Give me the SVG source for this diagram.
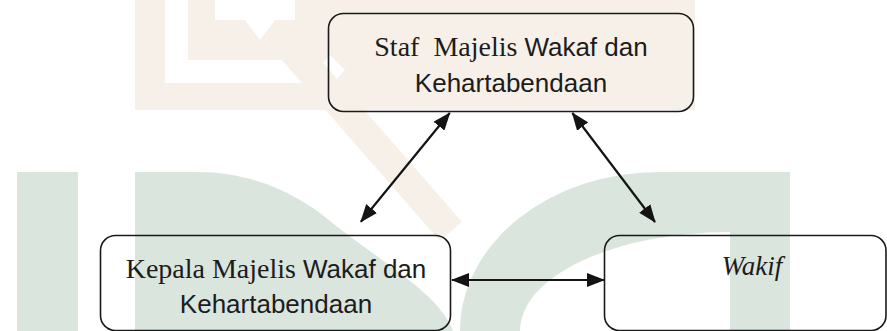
<svg xmlns="http://www.w3.org/2000/svg" width="887" height="331" viewBox="0 0 887 331">
  <style>
    .wm-g { fill: #dae5de; }
    .wm-b { fill: #f6f0e8; }
    .wm-w { fill: #ffffff; }
    .box { fill: none; stroke: #1a1a1a; stroke-width: 1.6; }
    .serif { font-family: "Liberation Serif", "Times New Roman", serif; font-size: 28px; }
    .sans { font-family: "Liberation Sans", Arial, sans-serif; font-size: 26px; }
    .ital { font-family: "Liberation Serif", "Times New Roman", serif; font-size: 27px; font-style: italic; }
    .lbl { fill: #1c1c1c; text-anchor: middle; }
    .conn { stroke: #141414; stroke-width: 2.2; fill: none; marker-start: url(#ah); marker-end: url(#ah); }
  </style>
  <defs>
    <marker id="ah" viewBox="0 0 18 14" refX="17" refY="7" markerWidth="18" markerHeight="14" markerUnits="userSpaceOnUse" orient="auto-start-reverse">
      <path d="M0,0 L18,7 L0,14 z" fill="#141414"/>
    </marker>
  </defs>
  <rect width="887" height="331" fill="#ffffff"/>

  <g id="watermark">
    <rect class="wm-b" x="135" y="0" width="560" height="110"/>
    <rect class="wm-w" x="165" y="0" width="23" height="83"/>
    <rect class="wm-w" x="165" y="60" width="140" height="23"/>
    <rect class="wm-w" x="215" y="0" width="80" height="20"/>
    <polygon class="wm-w" points="245,20 275,20 260,40"/>
    <polygon class="wm-w" points="305,83 330,55 345,70 322,95"/>
    <polygon class="wm-b" points="275,52 297,33 462,222 440,241"/>
    <rect class="wm-w" x="695" y="0" width="192" height="110"/>
    <rect class="wm-g" x="17" y="172" width="61" height="159"/>
    <path class="wm-g" d="M135,172 H197 C255,172 300,195 335,225 C390,268 440,295 453,331 H135 Z"/>
    <path class="wm-g" d="M460,331 A200,159 0 0 1 660,172 L790,172 L790,331 L730,331 L730,232 A210,99 0 0 0 520,331 Z"/>
  </g>

  <g id="connectors">
    <line class="conn" x1="449.7" y1="113" x2="360.9" y2="221.7"/>
    <line class="conn" x1="572.4" y1="113" x2="655" y2="222"/>
    <line class="conn" x1="452" y1="280" x2="604" y2="280"/>
  </g>

  <g id="node-staf">
    <rect class="box" x="328.5" y="13.5" width="365" height="98" rx="15" ry="15"/>
    <text class="lbl" x="511" y="56" xml:space="preserve"><tspan font-family="Liberation Serif, serif" font-size="28" style="font-family:'Liberation Serif',serif;font-size:28px">Staf  Majelis </tspan><tspan style="font-family:'Liberation Sans',sans-serif;font-size:26px">Wakaf dan</tspan></text>
    <text class="lbl sans" x="511" y="92">Kehartabendaan</text>
  </g>

  <g id="node-kepala">
    <rect class="box" x="100.5" y="235.5" width="350" height="95" rx="15" ry="15"/>
    <text class="lbl" x="276" y="278" xml:space="preserve"><tspan style="font-family:'Liberation Serif',serif;font-size:28px">Kepala Majelis </tspan><tspan style="font-family:'Liberation Sans',sans-serif;font-size:26px">Wakaf dan</tspan></text>
    <text class="lbl sans" x="276" y="313">Kehartabendaan</text>
  </g>

  <g id="node-wakif">
    <rect class="box" x="604.5" y="235.5" width="281.5" height="95" rx="15" ry="15"/>
    <text class="lbl ital" x="752" y="275">Wakif</text>
  </g>
</svg>
